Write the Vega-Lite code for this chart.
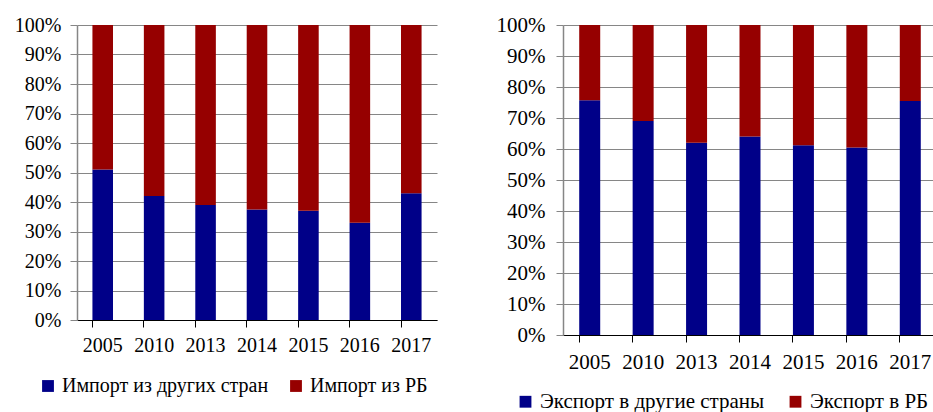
{
  "$schema": "https://vega.github.io/schema/vega-lite/v6.json",
  "padding": {"left": 14, "top": 14, "right": 0, "bottom": 0},
  "background": "white",
  "datasets": {
    "trade": [
      {"panel": "import", "year": "2005", "series": "Импорт из других стран", "share": 0.51},
      {"panel": "import", "year": "2005", "series": "Импорт из РБ", "share": 0.49},
      {"panel": "import", "year": "2010", "series": "Импорт из других стран", "share": 0.42},
      {"panel": "import", "year": "2010", "series": "Импорт из РБ", "share": 0.58},
      {"panel": "import", "year": "2013", "series": "Импорт из других стран", "share": 0.39},
      {"panel": "import", "year": "2013", "series": "Импорт из РБ", "share": 0.61},
      {"panel": "import", "year": "2014", "series": "Импорт из других стран", "share": 0.375},
      {"panel": "import", "year": "2014", "series": "Импорт из РБ", "share": 0.625},
      {"panel": "import", "year": "2015", "series": "Импорт из других стран", "share": 0.37},
      {"panel": "import", "year": "2015", "series": "Импорт из РБ", "share": 0.63},
      {"panel": "import", "year": "2016", "series": "Импорт из других стран", "share": 0.33},
      {"panel": "import", "year": "2016", "series": "Импорт из РБ", "share": 0.67},
      {"panel": "import", "year": "2017", "series": "Импорт из других стран", "share": 0.43},
      {"panel": "import", "year": "2017", "series": "Импорт из РБ", "share": 0.57},
      {"panel": "export", "year": "2005", "series": "Экспорт в другие страны", "share": 0.757},
      {"panel": "export", "year": "2005", "series": "Экспорт в РБ", "share": 0.243},
      {"panel": "export", "year": "2010", "series": "Экспорт в другие страны", "share": 0.69},
      {"panel": "export", "year": "2010", "series": "Экспорт в РБ", "share": 0.31},
      {"panel": "export", "year": "2013", "series": "Экспорт в другие страны", "share": 0.62},
      {"panel": "export", "year": "2013", "series": "Экспорт в РБ", "share": 0.38},
      {"panel": "export", "year": "2014", "series": "Экспорт в другие страны", "share": 0.64},
      {"panel": "export", "year": "2014", "series": "Экспорт в РБ", "share": 0.36},
      {"panel": "export", "year": "2015", "series": "Экспорт в другие страны", "share": 0.612},
      {"panel": "export", "year": "2015", "series": "Экспорт в РБ", "share": 0.388},
      {"panel": "export", "year": "2016", "series": "Экспорт в другие страны", "share": 0.605},
      {"panel": "export", "year": "2016", "series": "Экспорт в РБ", "share": 0.395},
      {"panel": "export", "year": "2017", "series": "Экспорт в другие страны", "share": 0.755},
      {"panel": "export", "year": "2017", "series": "Экспорт в РБ", "share": 0.245}
    ]
  },
  "spacing": 59,
  "hconcat": [
    {
      "data": {"name": "trade"},
      "transform": [{"filter": "datum.panel === 'import'"}],
      "width": 360,
      "height": 295,
      "mark": {"type": "bar"},
      "encoding": {
        "x": {
          "field": "year", "type": "nominal", "title": null,
          "scale": {"paddingInner": 0.6, "paddingOuter": 0.3},
          "axis": {"labelAngle": 0, "bandPosition": 0, "labelFontSize": 20, "labelPadding": 8}
        },
        "y": {
          "field": "share", "type": "quantitative", "stack": "zero", "title": null,
          "scale": {"domain": [0, 1], "nice": false},
          "axis": {"values": [0, 0.1, 0.2, 0.3, 0.4, 0.5, 0.6, 0.7, 0.8, 0.9, 1], "format": ".0%", "labelFontSize": 20, "labelPadding": 9}
        },
        "color": {
          "field": "series", "type": "nominal",
          "scale": {"domain": ["Импорт из других стран", "Импорт из РБ"], "range": ["#000088", "#960000"]},
          "legend": {"title": null, "orient": "none", "legendX": -39, "legendY": 351, "direction": "horizontal", "labelFontSize": 20, "labelLimit": 0, "symbolType": "square", "symbolSize": 140, "symbolStrokeWidth": 0, "columnPadding": 17, "labelOffset": 4}
        },
        "order": {"field": "series", "sort": "descending"}
      }
    },
    {
      "data": {"name": "trade"},
      "transform": [{"filter": "datum.panel === 'export'"}],
      "width": 374,
      "height": 310,
      "mark": {"type": "bar"},
      "encoding": {
        "x": {
          "field": "year", "type": "nominal", "title": null,
          "scale": {"paddingInner": 0.607, "paddingOuter": 0.3035},
          "axis": {"labelAngle": 0, "bandPosition": 0, "labelFontSize": 21, "labelPadding": 9}
        },
        "y": {
          "field": "share", "type": "quantitative", "stack": "zero", "title": null,
          "scale": {"domain": [0, 1], "nice": false},
          "axis": {"values": [0, 0.1, 0.2, 0.3, 0.4, 0.5, 0.6, 0.7, 0.8, 0.9, 1], "format": ".0%", "labelFontSize": 21, "labelPadding": 11}
        },
        "color": {
          "field": "series", "type": "nominal",
          "scale": {"domain": ["Экспорт в другие страны", "Экспорт в РБ"], "range": ["#000088", "#960000"]},
          "legend": {"title": null, "orient": "none", "legendX": -48, "legendY": 366, "direction": "horizontal", "labelFontSize": 21, "labelLimit": 0, "symbolType": "square", "symbolSize": 140, "symbolStrokeWidth": 0, "columnPadding": 20, "labelOffset": 4}
        },
        "order": {"field": "series", "sort": "descending"}
      }
    }
  ],
  "resolve": {"scale": {"color": "independent"}, "legend": {"color": "independent"}},
  "config": {
    "view": {"stroke": null},
    "font": "Liberation Serif",
    "axis": {
      "labelFont": "Liberation Serif",
      "labelColor": "#000000",
      "tickSize": 7,
      "grid": false
    },
    "axisY": {
      "grid": true,
      "gridColor": "#868686",
      "gridWidth": 1,
      "domainColor": "#868686",
      "tickColor": "#868686",
      "domainWidth": 1.5
    },
    "axisX": {
      "domainColor": "#000000",
      "tickColor": "#000000",
      "domainWidth": 1
    },
    "legend": {
      "labelFont": "Liberation Serif",
      "labelColor": "#000000"
    }
  }
}
